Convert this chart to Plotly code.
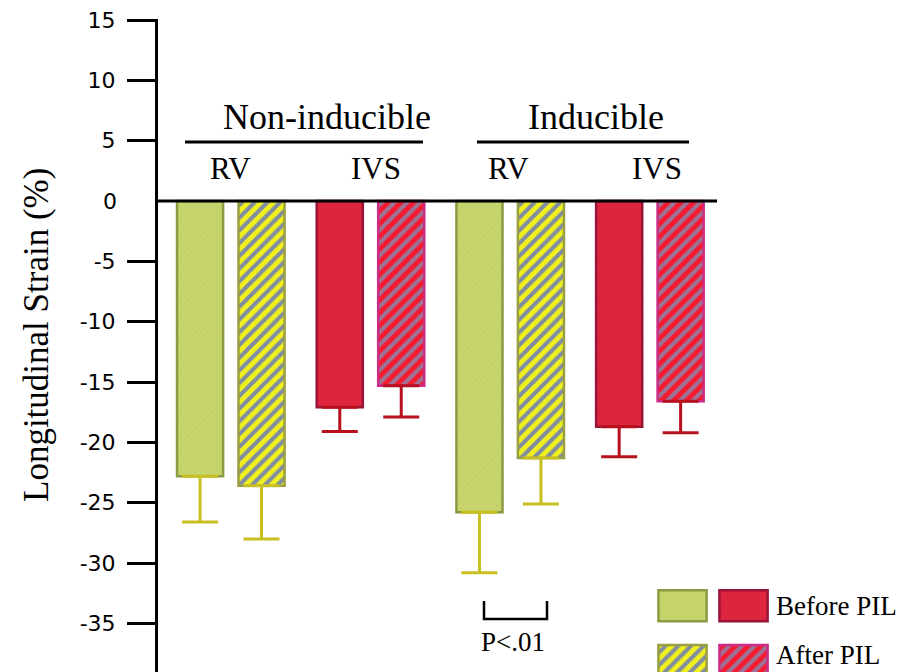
import plotly.graph_objects as go

# ---------------- data ----------------
categories = ["Non-inducible RV", "Non-inducible IVS", "Inducible RV", "Inducible IVS"]
groups = ["Non-inducible", "Inducible"]
regions = ["RV", "IVS"]
before_pil = [-22.8, -17.1, -25.8, -18.7]
after_pil = [-23.6, -15.3, -21.3, -16.6]
before_sd = [3.8, 2.0, 5.0, 2.5]
after_sd = [4.4, 2.6, 3.8, 2.6]
series_names = ["Before PIL", "After PIL"]
y_ticks = [15, 10, 5, -5, -10, -15, -20, -25, -30, -35]
y_tick_labels = ["15", "10", "5", "-5", "-10", "-15", "-20", "-25", "-30", "-35"]
zero_label = "0"
legend_swatch_height = [1, 1]
legend_swatch_base = [1.77, 0]

# ---------------- layout helpers ----------------
OFF = 8                      # default page body margin
W, H = 904 - OFF, 672 - OFF  # figure size so that it fits the window
L, T = 158 - OFF, 19 - OFF
PW, PH = W - L, H - T
PX_PER_UNIT = 12.067


def px_x(p):  # page pixel -> paper x
    return (p - OFF - L) / PW


def px_y(p):  # page pixel -> paper y
    return (H - (p - OFF)) / PH


SERIF = "Liberation Serif"
SANS = "DejaVu Sans"
TICK_SIZE = 22

styles = {
    "RV": dict(fill="#c7d56c", stripe_bg="#f0f01c", stripe_fg="#7f8ca4",
               line_b="#8c9a44", line_a="#9aa040", err="#c8c020"),
    "IVS": dict(fill="#e0263e", stripe_bg="#f41a30", stripe_fg="#9c7498",
                line_b="#9a1438", line_a="#cc2c86", err="#b8101c"),
}


def marker_for(reg, after):
    st = styles[reg]
    if after:
        return dict(color=st["stripe_bg"], line=dict(color=st["line_a"], width=2.5),
                    pattern=dict(shape="/", fgcolor=st["stripe_fg"], bgcolor=st["stripe_bg"],
                                 size=9, solidity=0.45, fgopacity=1))
    return dict(color=st["fill"], line=dict(color=st["line_b"], width=2.5),
                pattern=dict(shape="/", fgcolor=st["line_b"], bgcolor=st["fill"],
                             size=4, solidity=0.12, fgopacity=0.35))


fig = go.Figure()

for reg in regions:
    idx = [i for i, c in enumerate(categories) if c.endswith(" " + reg)]
    xs = [categories[i] for i in idx]
    st = styles[reg]
    for after, vals, sds, grp in [(False, before_pil, before_sd, "before"),
                                  (True, after_pil, after_sd, "after")]:
        fig.add_trace(go.Bar(
            x=xs, y=[vals[i] for i in idx], name=grp + " " + reg,
            offsetgroup=grp, showlegend=False,
            marker=marker_for(reg, after),
            error_y=dict(type="data", symmetric=False, array=[0] * len(idx),
                         arrayminus=[sds[i] for i in idx],
                         color=st["err"], thickness=3, width=18),
        ))

# legend swatches on an inset axis
for k, name in enumerate(series_names):
    for reg in regions:
        fig.add_trace(go.Bar(
            x=[reg], y=[legend_swatch_height[k]], base=[legend_swatch_base[k]],
            xaxis="x2", yaxis="y2", showlegend=False, hoverinfo="skip",
            offset=-0.395, width=0.79, marker=marker_for(reg, k == 1),
        ))

x_lo = -(230.8 - 158) / 139.7
x_hi = x_lo + (717 - 158) / 139.7
# zero sits at page y = 201, 15 at page y ~ 20
y_top = (201 - 19) / PX_PER_UNIT
y_bot = y_top - PH / PX_PER_UNIT

fig.update_layout(
    width=W, height=H,
    margin=dict(l=L, r=0, t=T, b=0, autoexpand=False),
    paper_bgcolor="white", plot_bgcolor="white",
    barmode="group", bargap=0.12, bargroupgap=0.25,
    showlegend=False,
    xaxis=dict(domain=[0, px_x(717)], range=[x_lo, x_hi], visible=False,
               categoryorder="array", categoryarray=categories),
    yaxis=dict(range=[y_bot, y_top], tickvals=y_ticks, ticktext=y_tick_labels,
               ticks="outside", ticklen=28, ticklabelstandoff=7,
               ticklabeloverflow="allow",
               tickwidth=3, tickcolor="black", showline=True, linecolor="black",
               linewidth=3, showgrid=False, zeroline=False,
               tickfont=dict(family=SANS, size=TICK_SIZE, color="black")),
    xaxis2=dict(domain=[px_x(650), px_x(778)], range=[-0.533, 1.565], visible=False,
                anchor="y2", categoryorder="array", categoryarray=regions),
    yaxis2=dict(domain=[0, px_y(585)], range=[0.129, 0.129 + 87 / 31], visible=False,
                anchor="x2"),
)

# zero line on top of the bars
fig.add_shape(type="line", xref="paper", yref="y", x0=0, x1=px_x(717), y0=0, y1=0,
              line=dict(color="black", width=3), layer="above")

ann = []
C = dict(xanchor="center", yanchor="middle", showarrow=False)
# "0" label (the reference has no tick mark at zero)
ann.append(dict(text=zero_label, xref="paper", yref="y", x=px_x(119), y=0,
                xanchor="right", yanchor="middle", showarrow=False,
                font=dict(family=SANS, size=TICK_SIZE, color="black")))
# y-axis title
ann.append(dict(text="Longitudinal Strain (%)", textangle=-90, xref="paper", yref="paper",
                x=px_x(36), y=px_y(335), **C,
                font=dict(family=SERIF, size=35, color="black")))
# group headers + underlines
for g, cx, (l0, l1) in zip(groups, [327, 596], [(185, 423), (477, 689)]):
    ann.append(dict(text=g, xref="paper", yref="paper", x=px_x(cx), y=px_y(117), **C,
                    font=dict(family=SERIF, size=36, color="black")))
    fig.add_shape(type="line", xref="paper", yref="paper", x0=px_x(l0), x1=px_x(l1),
                  y0=px_y(142), y1=px_y(142), line=dict(color="black", width=3))
# region labels
for c, shift in zip(categories, [0, 5, -2, 7]):
    ann.append(dict(text=c.split(" ")[-1], xref="x", yref="paper", x=c, xshift=shift,
                    y=px_y(168), **C,
                    font=dict(family=SERIF, size=31, color="black")))
# significance bracket
fig.add_shape(type="path", xref="paper", yref="paper",
              path=f"M {px_x(484)} {px_y(601)} L {px_x(484)} {px_y(619)} "
                   f"L {px_x(547)} {px_y(619)} L {px_x(547)} {px_y(601)}",
              line=dict(color="black", width=2.5))
ann.append(dict(text="P<.01", xref="paper", yref="paper", x=px_x(513), y=px_y(642), **C,
                font=dict(family=SERIF, size=27, color="black")))
# legend labels
for name, cy in zip(series_names, [606, 655]):
    ann.append(dict(text=name, xref="paper", yref="paper", x=px_x(774), y=px_y(cy),
                    xanchor="left", yanchor="middle", showarrow=False,
                    font=dict(family=SERIF, size=27, color="black")))

fig.update_layout(annotations=ann)
fig.write_html("out.html")
